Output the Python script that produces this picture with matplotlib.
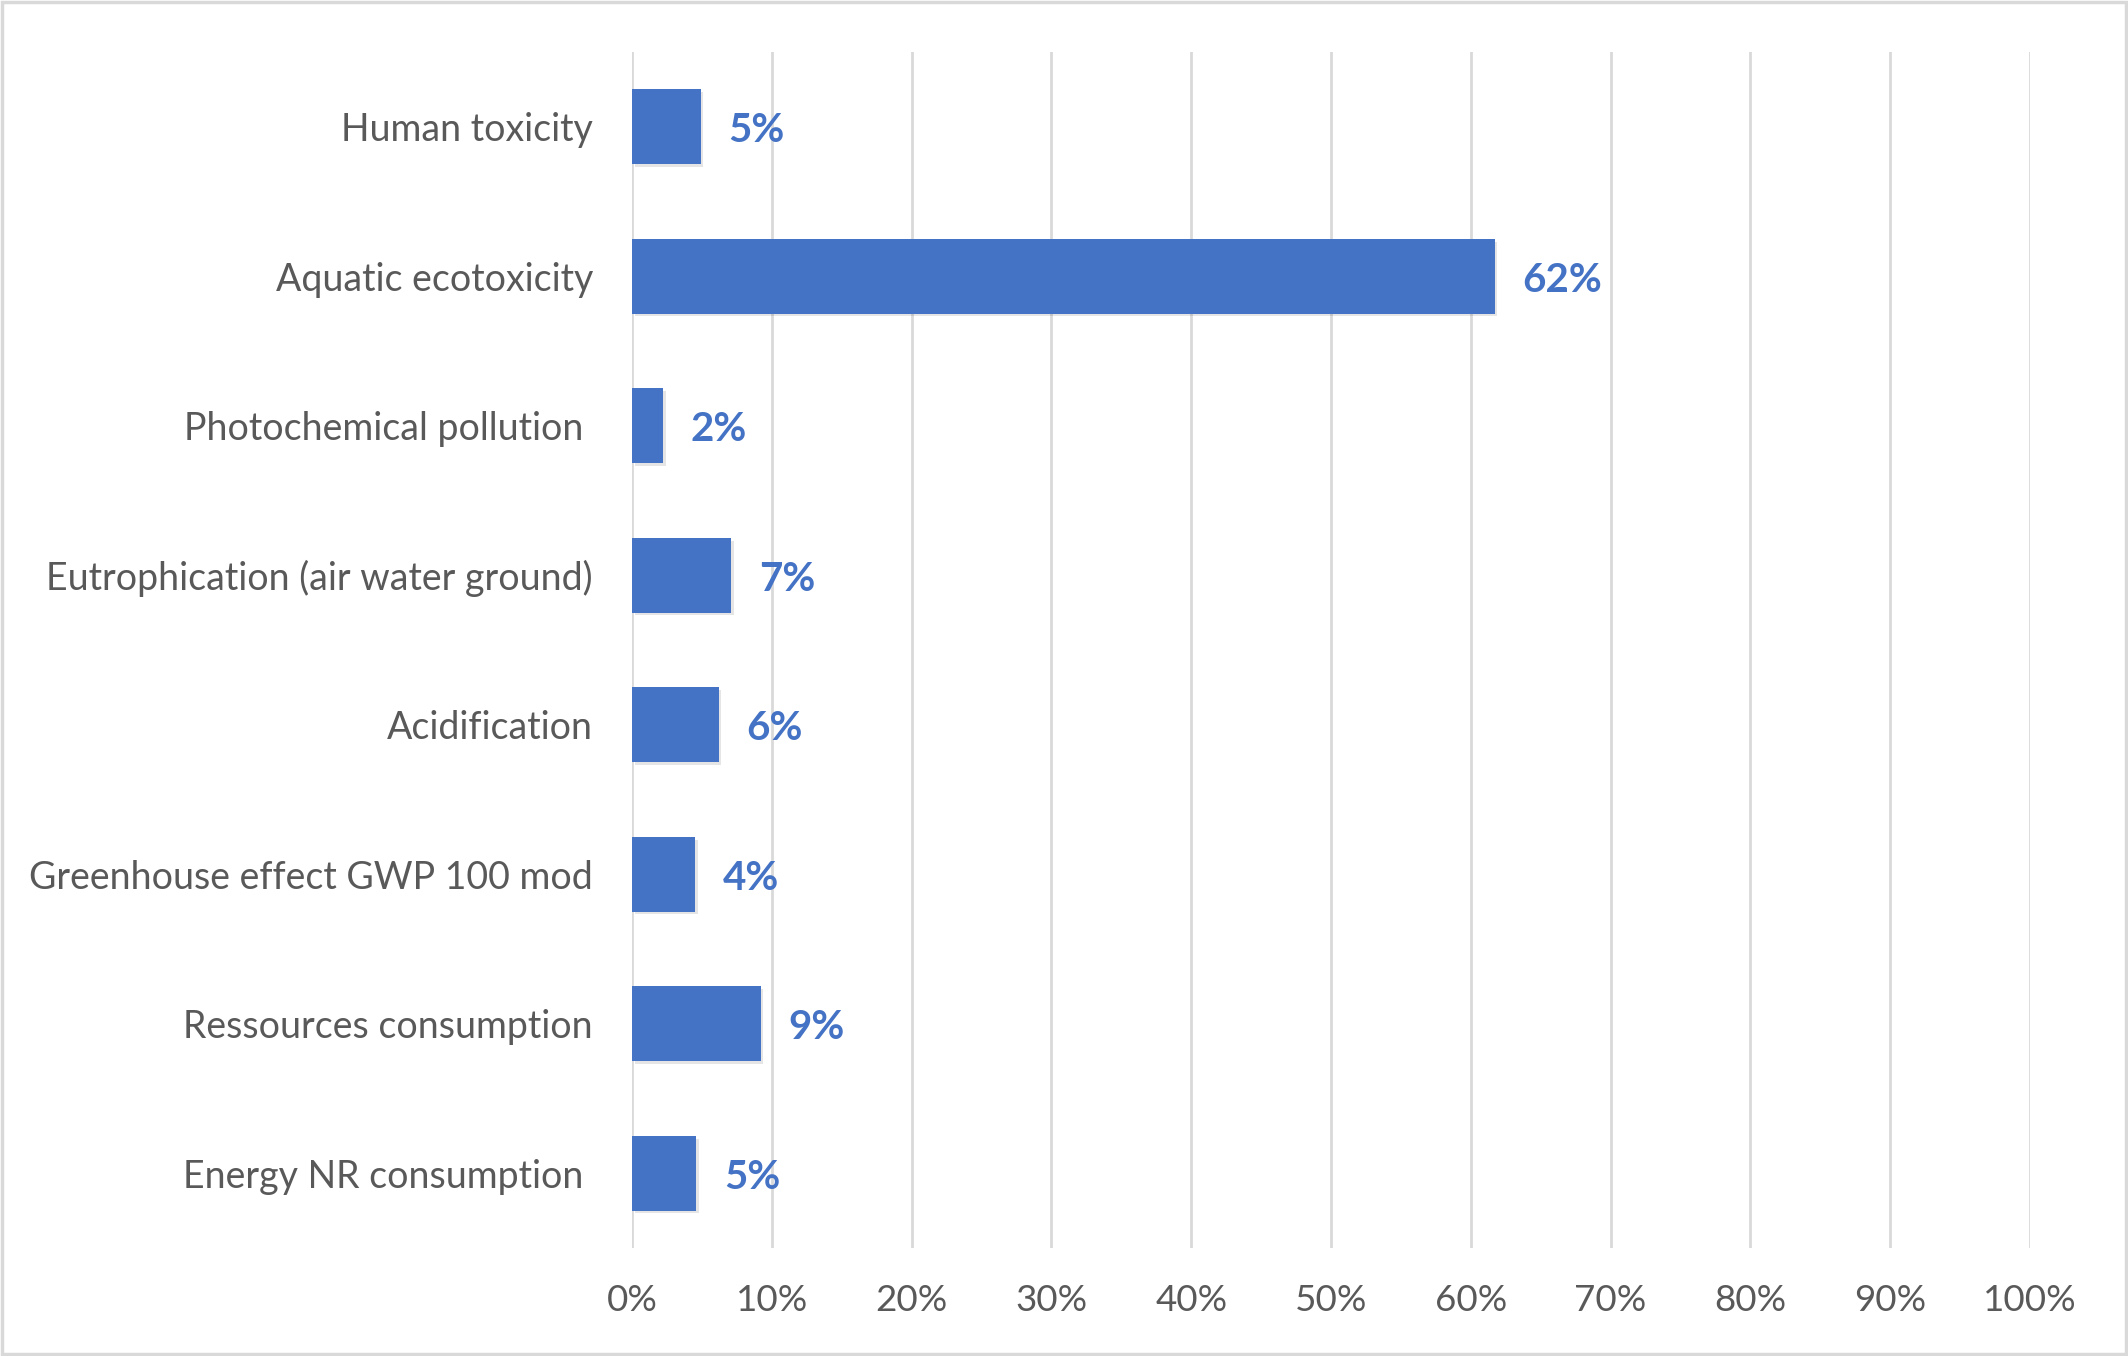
import matplotlib
matplotlib.use("Agg")
import matplotlib.pyplot as plt
from matplotlib.patches import Rectangle
import matplotlib.patheffects as pe

categories = [
    "Human toxicity",
    "Aquatic ecotoxicity",
    "Photochemical pollution ",
    "Eutrophication (air water ground)",
    "Acidification",
    "Greenhouse effect GWP 100 mod",
    "Ressources consumption",
    "Energy NR consumption ",
]
values = [0.049, 0.617, 0.022, 0.071, 0.062, 0.045, 0.092, 0.046]
value_labels = ["5%", "62%", "2%", "7%", "6%", "4%", "9%", "5%"]
x_ticks = [0.0, 0.1, 0.2, 0.3, 0.4, 0.5, 0.6, 0.7, 0.8, 0.9, 1.0]
x_tick_labels = ["0%", "10%", "20%", "30%", "40%", "50%", "60%", "70%", "80%", "90%", "100%"]

W, H = 2128, 1356
fig = plt.figure(figsize=(W / 100, H / 100), dpi=100)
plt.rcParams['font.family'] = ['Lato', 'DejaVu Sans']

# figure border
fig.patches.append(Rectangle((2 / W, 2 / H), 1 - 4 / W, 1 - 4 / H, transform=fig.transFigure,
                             fill=False, edgecolor="#D9D9D9", linewidth=2.5))

ax = fig.add_axes([632 / W, 1 - 1248 / H, (2030 - 632) / W, (1248 - 52) / H])
n = len(categories)
ypos = list(range(n))
bars = ax.barh(ypos, values, height=0.5, color="#4472C4", zorder=3)
for b in bars:
    b.set_path_effects([pe.SimplePatchShadow(offset=(2, -2), alpha=0.10, shadow_rgbFace="#000000"), pe.Normal()])

ax.set_ylim(n - 0.5, -0.5)
ax.set_xlim(0, 1.0)
ax.set_yticks(ypos)
ax.set_yticklabels(categories, fontsize=27, color="#595959")
ax.set_xticks(x_ticks)
ax.set_xticklabels(x_tick_labels, fontsize=26.5, color="#595959")
ax.tick_params(axis="y", length=0, pad=28)
ax.tick_params(axis="x", length=0, pad=26)
for s in ax.spines.values():
    s.set_visible(False)
ax.grid(axis="x", color="#D9D9D9", linewidth=2, zorder=0)
ax.set_axisbelow(True)

for yi, v, lab in zip(ypos, values, value_labels):
    ax.annotate(lab, xy=(v, yi), xytext=(28, -4), textcoords="offset pixels",
                ha="left", va="center", fontsize=29, fontweight="bold", color="#4472C4")

fig.savefig("out.png", dpi=100)
